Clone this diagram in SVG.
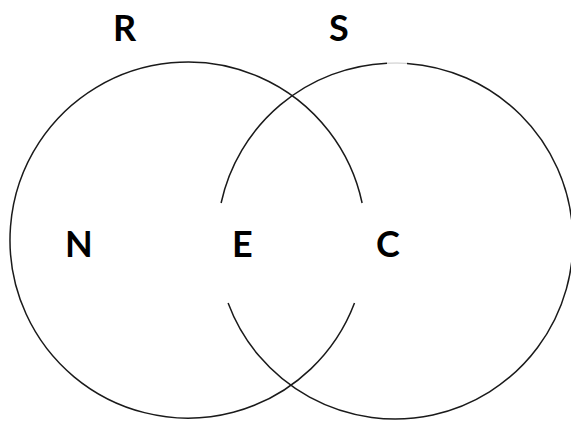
<svg xmlns="http://www.w3.org/2000/svg" width="571" height="422" viewBox="0 0 571 422">
  <style>
    .ring { fill: none; stroke: #1a1a1a; stroke-width: 1.5; }
    .faint { fill: none; stroke: #c8c8c8; stroke-width: 1; }
    .lbl { font-family: Lato, "Open Sans", "Liberation Sans", sans-serif; font-weight: bold; font-size: 36px; fill: #000; }
  </style>
  <rect width="571" height="422" fill="#fff"/>
  <g id="circle-R">
    <path class="ring" d="M 362.1 203 A 178 178 0 1 0 354.5 303"/>
  </g>
  <g id="circle-S">
    <path class="ring" d="M 221.1 203 A 178 178 0 0 1 387 63.2"/>
    <path class="faint" d="M 387 63.2 A 178 178 0 0 1 407 63.4"/>
    <path class="ring" d="M 407 63.4 A 178 178 0 1 1 228.1 303"/>
  </g>
  <g id="labels">
    <text class="lbl" x="113" y="41">R</text>
    <text class="lbl" x="329" y="41">S</text>
    <text class="lbl" x="65" y="257">N</text>
    <text class="lbl" x="232" y="257">E</text>
    <text class="lbl" x="376" y="257">C</text>
  </g>
</svg>
